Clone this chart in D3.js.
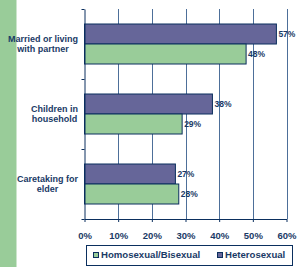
<!DOCTYPE html>
<html>
<head>
<meta charset="utf-8">
<script src="https://cdn.jsdelivr.net/npm/d3@7"></script>
<style>
  body { margin: 0; background: #fff; }
  svg text { font-family: "Liberation Sans", Arial, sans-serif; fill: #1a3a66; }
</style>
</head>
<body>
<div class="chart"></div>
<script>
// categories top to bottom, each label split in lines
let categories = ["Married or living with partner", "Children in household", "Caretaking for elder"];
let categoryLines = [["Married or living", "with partner"], ["Children in", "household"], ["Caretaking for", "elder"]];
let seriesNames = ["Heterosexual", "Homosexual/Bisexual"];
let heteroValues = [57, 38, 27];
let homoValues = [48, 29, 28];
let xTicks = [0, 10, 20, 30, 40, 50, 60];
let legendOrder = ["Homosexual/Bisexual", "Heterosexual"];

let colors = { "Heterosexual": "#666699", "Homosexual/Bisexual": "#99cc99" };
let navy = "#0b2f5e";

let width = 299, height = 267;

let svg = d3.select(".chart")
	.append("svg")
	.attr("width", width)
	.attr("height", height);

// green strip on the left
svg.append("rect")
	.attr("x", 0).attr("y", 0)
	.attr("width", 16.5).attr("height", height)
	.attr("fill", "#99cc99");

let x = d3.scaleLinear().domain([0, 60]).range([84.5, 286.5]);
let y = d3.scaleBand().domain(categories).range([9, 219]).padding(0);
let ySub = d3.scaleBand().domain(seriesNames).range([0, y.bandwidth()]).paddingInner(0).paddingOuter(0.75);

// gridlines
svg.append("g")
	.selectAll("line")
	.data(xTicks.slice(1))
	.enter().append("line")
	.attr("x1", d => Math.round(x(d)) + 0.5)
	.attr("x2", d => Math.round(x(d)) + 0.5)
	.attr("y1", 9)
	.attr("y2", 219)
	.attr("stroke", "#4d6f99")
	.attr("stroke-width", 1);

let rows = categories.map((c, i) => ({ cat: c, lines: categoryLines[i], values: [
	{ name: "Heterosexual", value: heteroValues[i] },
	{ name: "Homosexual/Bisexual", value: homoValues[i] }
]}));

let groups = svg.selectAll(".group")
	.data(rows)
	.enter().append("g")
	.attr("class", "group")
	.attr("transform", d => "translate(0," + y(d.cat) + ")");

groups.selectAll("rect")
	.data(d => d.values)
	.enter().append("rect")
	.attr("x", x(0))
	.attr("y", d => ySub(d.name))
	.attr("width", d => x(d.value) - x(0))
	.attr("height", ySub.bandwidth())
	.attr("fill", d => colors[d.name])
	.attr("stroke", navy)
	.attr("stroke-width", 1);

groups.selectAll(".val")
	.data(d => d.values)
	.enter().append("text")
	.attr("class", "val")
	.attr("x", d => x(d.value) + 2)
	.attr("y", d => ySub(d.name) + ySub.bandwidth() / 2)
	.attr("dy", "0.35em")
	.style("font-size", "8.5px")
	.style("font-weight", "bold")
	.text(d => d.value + "%");

// category labels: block right aligned at x=78, lines centred inside block
groups.each(function(d) {
	let g = d3.select(this);
	let t = g.append("text")
		.style("font-size", "9px")
		.style("font-weight", "bold")
		.attr("text-anchor", "middle");
	let spans = d.lines.map((l, i) => t.append("tspan").text(l));
	let maxW = d3.max(spans, s => s.node().getComputedTextLength());
	let cx = 78 - maxW / 2;
	let mid = y.bandwidth() / 2;
	spans.forEach((s, i) => {
		s.attr("x", cx).attr("y", mid + (i - (d.lines.length - 1) / 2) * 10.3).attr("dy", "0.35em");
	});
});

// left axis with ticks on category boundaries
let yLin = d3.scaleLinear().domain([9, 219]).range([9, 219]);
let boundaries = [0, 1, 2].map(i => y(categories[i])).concat([219]);
svg.append("g")
	.attr("transform", "translate(" + x(0) + ",0)")
	.call(d3.axisLeft(yLin).tickValues(boundaries).tickFormat("").tickSize(3).tickSizeOuter(0))
	.call(g => g.selectAll("line,path").attr("stroke", navy));

// bottom axis
svg.append("g")
	.attr("transform", "translate(0,219)")
	.call(d3.axisBottom(x).tickValues(xTicks).tickFormat(d => d + "%").tickSize(3).tickSizeOuter(0).tickPadding(10))
	.call(g => g.selectAll("line,path").attr("stroke", navy))
	.call(g => g.selectAll("text")
		.attr("fill", "#1a3a66")
		.style("font-family", "'Liberation Sans', Arial, sans-serif")
		.style("font-size", "9.5px")
		.style("font-weight", "bold"));

// legend
let legend = svg.append("g");
legend.append("rect")
	.attr("x", 86.5).attr("y", 245.5)
	.attr("width", 206).attr("height", 20)
	.attr("fill", "#fff")
	.attr("stroke", navy);

let legendX = [93, 217];
legendOrder.forEach((name, i) => {
	legend.append("rect")
		.attr("x", legendX[i] + 0.5).attr("y", 252.5)
		.attr("width", 5).attr("height", 5)
		.attr("fill", colors[name])
		.attr("stroke", navy);
	legend.append("text")
		.attr("x", legendX[i] + 8)
		.attr("y", 255)
		.attr("dy", "0.35em")
		.style("font-size", "9.6px")
		.style("font-weight", "bold")
		.text(name);
});
</script>
</body>
</html>
